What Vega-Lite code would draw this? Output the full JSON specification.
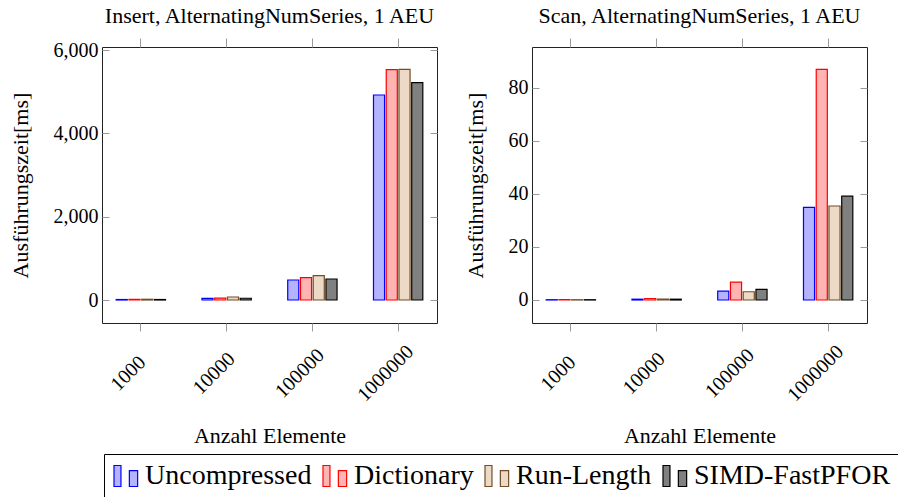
{
  "$schema": "https://vega.github.io/schema/vega-lite/v6.json",
  "padding": {"left": 8, "top": 4, "right": 0, "bottom": 0},
  "bounds": "flush",
  "spacing": 95,
  "config": {
    "font": "Liberation Serif",
    "view": {"stroke": "#222", "strokeWidth": 1},
    "axis": {
      "domain": false,
      "grid": false,
      "labelFont": "Liberation Serif",
      "labelFontSize": 20,
      "labelColor": "black",
      "titleFont": "Liberation Serif",
      "titleFontSize": 22,
      "titleFontWeight": "normal",
      "titleColor": "black",
      "tickColor": "#9a9a9a",
      "tickWidth": 1
    },
    "title": {"font": "Liberation Serif", "fontSize": 22, "fontWeight": "normal", "color": "black", "offset": 10},
    "legend": {
      "orient": "none",
      "legendX": 2,
      "legendY": 407,
      "direction": "horizontal",
      "columns": 4,
      "title": null,
      "strokeColor": "black",
      "padding": 8,
      "labelFont": "Liberation Serif",
      "labelFontSize": 28,
      "labelColor": "black",
      "labelLimit": 0,
      "labelOffset": 5,
      "columnPadding": 8,
      "symbolSize": 576,
      "symbolStrokeWidth": 1.2,
      "symbolType": "M-1,-0.875H-0.42V0.875H-1Z M0.28,-0.45H0.97V0.875H0.28Z"
    }
  },
  "datasets": {
    "insert": [
      {"n": "1000", "series": "Uncompressed", "ms": 12},
      {"n": "1000", "series": "Dictionary", "ms": 14},
      {"n": "1000", "series": "Run-Length", "ms": 18},
      {"n": "1000", "series": "SIMD-FastPFOR", "ms": 12},
      {"n": "10000", "series": "Uncompressed", "ms": 38},
      {"n": "10000", "series": "Dictionary", "ms": 45},
      {"n": "10000", "series": "Run-Length", "ms": 72},
      {"n": "10000", "series": "SIMD-FastPFOR", "ms": 42},
      {"n": "100000", "series": "Uncompressed", "ms": 480},
      {"n": "100000", "series": "Dictionary", "ms": 535},
      {"n": "100000", "series": "Run-Length", "ms": 583},
      {"n": "100000", "series": "SIMD-FastPFOR", "ms": 504},
      {"n": "1000000", "series": "Uncompressed", "ms": 4920},
      {"n": "1000000", "series": "Dictionary", "ms": 5528},
      {"n": "1000000", "series": "Run-Length", "ms": 5536},
      {"n": "1000000", "series": "SIMD-FastPFOR", "ms": 5216}
    ],
    "scan": [
      {"n": "1000", "series": "Uncompressed", "ms": 0.1},
      {"n": "1000", "series": "Dictionary", "ms": 0.1},
      {"n": "1000", "series": "Run-Length", "ms": 0.1},
      {"n": "1000", "series": "SIMD-FastPFOR", "ms": 0.1},
      {"n": "10000", "series": "Uncompressed", "ms": 0.3},
      {"n": "10000", "series": "Dictionary", "ms": 0.55},
      {"n": "10000", "series": "Run-Length", "ms": 0.3},
      {"n": "10000", "series": "SIMD-FastPFOR", "ms": 0.3},
      {"n": "100000", "series": "Uncompressed", "ms": 3.3},
      {"n": "100000", "series": "Dictionary", "ms": 6.7},
      {"n": "100000", "series": "Run-Length", "ms": 3.1},
      {"n": "100000", "series": "SIMD-FastPFOR", "ms": 4.0},
      {"n": "1000000", "series": "Uncompressed", "ms": 34.9},
      {"n": "1000000", "series": "Dictionary", "ms": 86.9},
      {"n": "1000000", "series": "Run-Length", "ms": 35.4},
      {"n": "1000000", "series": "SIMD-FastPFOR", "ms": 39.1}
    ]
  },
  "hconcat": [
    {
      "width": 335,
      "height": 276,
      "title": "Insert, AlternatingNumSeries, 1 AEU",
      "data": {"name": "insert"},
      "resolve": {"axis": {"x": "independent", "y": "independent"}},
      "layer": [
        {
          "mark": {"type": "bar", "strokeWidth": 1.2, "opacity": 1},
          "encoding": {
            "x": {"field": "n", "type": "nominal", "sort": ["1000", "10000", "100000", "1000000"],
                  "scale": {"paddingInner": 0.41, "paddingOuter": 0.158},
                  "axis": {"orient": "bottom", "title": "Anzahl Elemente", "labelAngle": -45, "labelAlign": "center", "labelBaseline": "middle", "labelOffset": -12.5, "labelPadding": 42, "tickSize": 8, "titlePadding": 21}},
            "xOffset": {"field": "series", "type": "nominal", "sort": ["Uncompressed", "Dictionary", "Run-Length", "SIMD-FastPFOR"],
                        "scale": {"paddingInner": 0.13, "paddingOuter": 0.05}},
            "y": {"field": "ms", "type": "quantitative", "stack": null,
                  "scale": {"domain": [-552, 6072], "nice": false, "zero": false},
                  "axis": {"orient": "left", "title": "Ausführungszeit[ms]", "values": [0, 2000, 4000, 6000], "labelExpr": "format(datum.value, ',')", "offset": -7, "tickSize": 7, "labelPadding": 4, "titlePadding": 21}},
            "fill": {"field": "series", "type": "nominal",
                     "scale": {"domain": ["Uncompressed", "Dictionary", "Run-Length", "SIMD-FastPFOR"], "range": ["#b3b3ff", "#ffb3b3", "#ecd9c6", "#808080"]}},
            "stroke": {"field": "series", "type": "nominal",
                       "scale": {"domain": ["Uncompressed", "Dictionary", "Run-Length", "SIMD-FastPFOR"], "range": ["#0000ff", "#ff0000", "#734d26", "#000000"]}}
          }
        },
        {
          "mark": {"type": "bar", "opacity": 0},
          "encoding": {
            "x": {"field": "n", "type": "nominal", "sort": ["1000", "10000", "100000", "1000000"],
                  "axis": {"orient": "top", "labels": false, "title": null, "tickSize": 9}},
            "y": {"field": "ms", "type": "quantitative", "stack": null,
                  "axis": {"orient": "right", "labels": false, "title": null, "values": [0, 2000, 4000, 6000], "offset": -7, "tickSize": 7}}
          }
        }
      ]
    },
    {
      "width": 335,
      "height": 276,
      "title": "Scan, AlternatingNumSeries, 1 AEU",
      "data": {"name": "scan"},
      "resolve": {"axis": {"x": "independent", "y": "independent"}},
      "layer": [
        {
          "mark": {"type": "bar", "strokeWidth": 1.2, "opacity": 1},
          "encoding": {
            "x": {"field": "n", "type": "nominal", "sort": ["1000", "10000", "100000", "1000000"],
                  "scale": {"paddingInner": 0.41, "paddingOuter": 0.158},
                  "axis": {"orient": "bottom", "title": "Anzahl Elemente", "labelAngle": -45, "labelAlign": "center", "labelBaseline": "middle", "labelOffset": -12.5, "labelPadding": 42, "tickSize": 8, "titlePadding": 21}},
            "xOffset": {"field": "series", "type": "nominal", "sort": ["Uncompressed", "Dictionary", "Run-Length", "SIMD-FastPFOR"],
                        "scale": {"paddingInner": 0.13, "paddingOuter": 0.05}},
            "y": {"field": "ms", "type": "quantitative", "stack": null,
                  "scale": {"domain": [-8.67, 95.3], "nice": false, "zero": false},
                  "axis": {"orient": "left", "title": "Ausführungszeit[ms]", "values": [0, 20, 40, 60, 80], "offset": -7, "tickSize": 7, "labelPadding": 4, "titlePadding": 21}},
            "fill": {"field": "series", "type": "nominal",
                     "scale": {"domain": ["Uncompressed", "Dictionary", "Run-Length", "SIMD-FastPFOR"], "range": ["#b3b3ff", "#ffb3b3", "#ecd9c6", "#808080"]}},
            "stroke": {"field": "series", "type": "nominal",
                       "scale": {"domain": ["Uncompressed", "Dictionary", "Run-Length", "SIMD-FastPFOR"], "range": ["#0000ff", "#ff0000", "#734d26", "#000000"]}}
          }
        },
        {
          "mark": {"type": "bar", "opacity": 0},
          "encoding": {
            "x": {"field": "n", "type": "nominal", "sort": ["1000", "10000", "100000", "1000000"],
                  "axis": {"orient": "top", "labels": false, "title": null, "tickSize": 9}},
            "y": {"field": "ms", "type": "quantitative", "stack": null,
                  "axis": {"orient": "right", "labels": false, "title": null, "values": [0, 20, 40, 60, 80], "offset": -7, "tickSize": 7}}
          }
        }
      ]
    }
  ]
}
